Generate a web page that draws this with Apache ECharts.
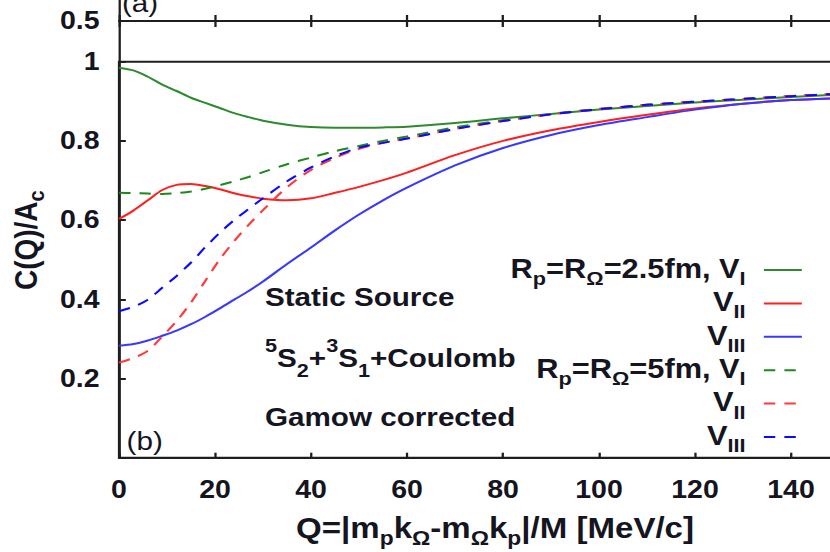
<!DOCTYPE html>
<html>
<head>
<meta charset="utf-8">
<script src="https://cdn.jsdelivr.net/npm/echarts@6/dist/echarts.min.js"></script>
<style>
  html, body { margin: 0; padding: 0; background: #fff; overflow: hidden; }
  /* the figure is laid out on a 728px canvas and widened to 830px */
  #chart { width: 728px; height: 552px; transform: scaleX(1.1401); transform-origin: 0 0; }
</style>
</head>
<body>
<div id="chart"></div>
<script>
// Relative momentum Q [MeV/c]
const qValues = [0, 3, 6, 9, 12, 15, 18, 21, 24, 27, 30, 35, 40, 45, 50, 55, 60, 70, 80, 90, 100, 110, 120, 130, 140, 150, 160];

// C(Q)/A_c, Rp = RΩ = 2.5 fm
const r25V1 = [0.985, 0.978, 0.962, 0.942, 0.926, 0.909, 0.896, 0.883, 0.870, 0.860, 0.851, 0.841, 0.835, 0.833, 0.833, 0.834, 0.836, 0.845, 0.857, 0.868, 0.879, 0.888, 0.897, 0.904, 0.911, 0.917, 0.922];
const r25V2 = [0.603, 0.624, 0.650, 0.676, 0.689, 0.691, 0.686, 0.678, 0.668, 0.660, 0.654, 0.650, 0.655, 0.669, 0.684, 0.701, 0.720, 0.764, 0.800, 0.827, 0.848, 0.866, 0.882, 0.894, 0.903, 0.908, 0.912];
const r25V3 = [0.283, 0.287, 0.296, 0.308, 0.321, 0.337, 0.356, 0.377, 0.399, 0.421, 0.445, 0.489, 0.531, 0.574, 0.614, 0.650, 0.682, 0.738, 0.782, 0.815, 0.840, 0.860, 0.879, 0.894, 0.903, 0.908, 0.912];

// C(Q)/A_c, Rp = RΩ = 5 fm
const r5V1 = [0.669, 0.668, 0.667, 0.666, 0.668, 0.672, 0.679, 0.688, 0.698, 0.709, 0.721, 0.741, 0.758, 0.774, 0.787, 0.800, 0.811, 0.834, 0.852, 0.868, 0.881, 0.891, 0.899, 0.906, 0.913, 0.919, 0.923];
const r5V2 = [0.240, 0.252, 0.270, 0.306, 0.345, 0.392, 0.447, 0.501, 0.547, 0.588, 0.625, 0.683, 0.727, 0.757, 0.780, 0.795, 0.806, 0.830, 0.850, 0.867, 0.880, 0.891, 0.899, 0.906, 0.913, 0.919, 0.923];
const r5V3 = [0.370, 0.381, 0.399, 0.429, 0.459, 0.493, 0.532, 0.568, 0.600, 0.628, 0.655, 0.698, 0.733, 0.761, 0.783, 0.795, 0.806, 0.830, 0.850, 0.867, 0.880, 0.891, 0.899, 0.906, 0.913, 0.919, 0.923];

// axis ranges and labelled ticks
const qMin = 0, qMax = 160, qStep = 20;
const qLabels = [0, 20, 40, 60, 80, 100, 120, 140];
const cMin = 0, cMax = 1, cStep = 0.2;
const cLabels = [0.2, 0.4, 0.6, 0.8, 1];
const topMin = 0, topMax = 2.6, topStep = 0.5;
const topLabels = [0.5];

const seriesNames = ['Rp=RΩ=2.5fm, VI', 'Rp=RΩ=2.5fm, VII', 'Rp=RΩ=2.5fm, VIII', 'Rp=RΩ=5fm, VI', 'Rp=RΩ=5fm, VII', 'Rp=RΩ=5fm, VIII'];
const legendLabels = [
  '{t|R}{s|p}{t|=R}{s|Ω}{t|=2.5fm, V}{s|I}{e| }',
  '{t|V}{s|II}{e| }',
  '{t|V}{s|III}{e| }',
  '{t|R}{s|p}{t|=R}{s|Ω}{t|=5fm, V}{s|I}{e| }',
  '{t|V}{s|II}{e| }',
  '{t|V}{s|III}{e| }'
];
const seriesValues = [r25V1, r25V2, r25V3, r5V1, r5V2, r5V3];
const seriesColors = ['#2f8a2f', '#ff1f1f', '#3838ff', '#1a8a1a', '#ff3a3a', '#0a0aff'];
const seriesDashed = [false, false, false, true, true, true];

const FONT = "'Liberation Sans', Arial, Helvetica, sans-serif";
const INK = '#15151f';
const AXIS = '#1e1e1e';

const chart = echarts.init(document.getElementById('chart'), null, { renderer: 'svg', width: 728, height: 552 });

const gridLeft = 104.4;
const gridWidth = 673.6;

const series = seriesNames.map((name, k) => ({
  type: 'line',
  name: name,
  xAxisIndex: 1,
  yAxisIndex: 1,
  data: qValues.map((q, i) => [q, seriesValues[k][i]]),
  smooth: 0.3,
  symbol: 'none',
  showSymbol: false,
  z: seriesDashed[k] ? 4 : 3,
  itemStyle: { color: seriesColors[k] },
  lineStyle: { color: seriesColors[k], width: 2, type: seriesDashed[k] ? [10, 8] : 'solid' },
  emphasis: { disabled: true }
}));

const tickLine = { color: AXIS, width: 2 };
const showIf = list => v => (list.some(u => Math.abs(u - v) < 1e-9) ? String(Math.round(v * 10) / 10) : '');

chart.setOption({
  backgroundColor: '#fff',
  animation: false,
  textStyle: { fontFamily: FONT },
  grid: [
    // panel (a), only its lower edge is in view
    { left: gridLeft, width: gridWidth, top: -150, height: 211.7, show: false, containLabel: false, outerBoundsMode: 'none' },
    // panel (b)
    { left: gridLeft, width: gridWidth, top: 61.7, height: 396, show: true, borderColor: AXIS, borderWidth: 2, backgroundColor: 'transparent', containLabel: false, outerBoundsMode: 'none' }
  ],
  xAxis: [
    {
      gridIndex: 0, type: 'value', min: qMin, max: qMax, interval: qStep,
      position: 'bottom', offset: -40.7,
      axisLine: { show: true, onZero: false, lineStyle: tickLine },
      axisTick: { show: true, inside: true, length: 6, lineStyle: tickLine },
      axisLabel: { show: false }, splitLine: { show: false }
    },
    {
      gridIndex: 1, type: 'value', min: qMin, max: qMax, interval: qStep,
      position: 'bottom',
      axisLine: { show: true, onZero: false, lineStyle: tickLine },
      axisTick: { show: true, inside: true, length: 5, lineStyle: tickLine },
      axisLabel: { show: true, margin: 19, fontSize: 25, fontWeight: 'bold', color: INK, fontFamily: FONT, formatter: showIf(qLabels) },
      splitLine: { show: false },
      name: '{t|Q=|m}{s|p}{t|k}{s|Ω}{t|-m}{s|Ω}{t|k}{s|p}{t||/M [MeV/c]}',
      nameLocation: 'middle',
      nameGap: 56,
      nameTextStyle: {
        color: INK, fontFamily: FONT, padding: [0, 14, 0, 0],
        rich: {
          t: { fontSize: 29, fontWeight: 'bold', color: INK, fontFamily: FONT, lineHeight: 32, verticalAlign: 'top' },
          s: { fontSize: 20, fontWeight: 'bold', color: INK, fontFamily: FONT, lineHeight: 20, padding: [18, 0, 0, 0] }
        }
      }
    },
    {
      // downward half of the panel (a) ticks
      gridIndex: 1, type: 'value', min: qMin, max: qMax, interval: qStep,
      position: 'top', offset: 40.7,
      axisLine: { show: false, onZero: false },
      axisTick: { show: true, inside: true, length: 6, lineStyle: tickLine },
      axisLabel: { show: false }, splitLine: { show: false }
    }
  ],
  yAxis: [
    {
      gridIndex: 0, type: 'value', min: topMin, max: topMax, interval: topStep,
      axisLine: { show: true, onZero: false, lineStyle: tickLine },
      axisTick: { show: false },
      axisLabel: {
        show: true, margin: 17, fontSize: 25, fontWeight: 'bold', color: INK, fontFamily: FONT,
        formatter: showIf(topLabels)
      },
      splitLine: { show: false }
    },
    {
      gridIndex: 1, type: 'value', min: cMin, max: cMax, interval: cStep,
      axisLine: { show: true, onZero: false, lineStyle: tickLine },
      axisTick: { show: true, inside: true, length: 6, lineStyle: tickLine },
      axisLabel: {
        show: true, margin: 17, fontSize: 25, fontWeight: 'bold', color: INK, fontFamily: FONT,
        formatter: showIf(cLabels)
      },
      splitLine: { show: false },
      name: '{t|C(Q)/A}{s|c}',
      nameLocation: 'middle',
      nameRotate: 90,
      nameGap: 58,
      nameTextStyle: {
        color: INK, fontFamily: FONT, padding: [0, 0, 0, 39],
        rich: {
          t: { fontSize: 28, fontWeight: 'bold', color: INK, fontFamily: FONT, lineHeight: 30, verticalAlign: 'top' },
          s: { fontSize: 20, fontWeight: 'bold', color: INK, fontFamily: FONT, lineHeight: 20, padding: [17, 0, 0, 0] }
        }
      }
    }
  ],
  legend: {
    show: true,
    orient: 'vertical',
    align: 'right',
    right: 23.7,
    top: 252,
    padding: 0,
    itemGap: -2.6,
    itemWidth: 33.3,
    itemHeight: 14,
    selectedMode: false,
    data: seriesNames,
    itemStyle: { opacity: 0 },
    formatter: name => legendLabels[seriesNames.indexOf(name)],
    textStyle: {
      color: INK, fontFamily: FONT,
      rich: {
        t: { fontSize: 27, fontWeight: 'bold', color: INK, fontFamily: FONT, lineHeight: 30, verticalAlign: 'top' },
        s: { fontSize: 19, fontWeight: 'bold', color: INK, fontFamily: FONT, lineHeight: 19, padding: [17, 0, 0, 0] },
        e: { width: 11, fontSize: 10 }
      }
    }
  },
  graphic: [
    {
      type: 'text', x: 107, y: 3, silent: true,
      style: { text: '(a)', fontSize: 26, fontFamily: FONT, fill: INK, verticalAlign: 'middle' }
    },
    {
      type: 'text', x: 111, y: 441, silent: true,
      style: { text: '(b)', fontSize: 26, fontFamily: FONT, fill: INK, verticalAlign: 'middle' }
    },
    {
      type: 'text', x: 232.4, y: 297.5, silent: true,
      style: { text: 'Static Source', fontSize: 26, fontWeight: 'bold', fontFamily: FONT, fill: INK, verticalAlign: 'middle' }
    },
    {
      type: 'text', x: 232.4, y: 335.5, silent: true,
      style: {
        text: '{p|5}{m|S}{b|2}{m|+}{p|3}{m|S}{b|1}{m|+Coulomb}',
        verticalAlign: 'top', fill: INK, fontFamily: FONT,
        rich: {
          p: { fontSize: 19, fontWeight: 'bold', fontFamily: FONT, color: INK, lineHeight: 19, verticalAlign: 'top' },
          m: { fontSize: 26, fontWeight: 'bold', fontFamily: FONT, color: INK, lineHeight: 28, padding: [10, 0, 0, 0], verticalAlign: 'top' },
          b: { fontSize: 19, fontWeight: 'bold', fontFamily: FONT, color: INK, lineHeight: 19, padding: [25, 0, 0, 0], verticalAlign: 'top' }
        }
      }
    },
    {
      type: 'text', x: 232.4, y: 417.5, silent: true,
      style: { text: 'Gamow corrected', fontSize: 26, fontWeight: 'bold', fontFamily: FONT, fill: INK, verticalAlign: 'middle' }
    }
  ],
  series: series
});
</script>
</body>
</html>
